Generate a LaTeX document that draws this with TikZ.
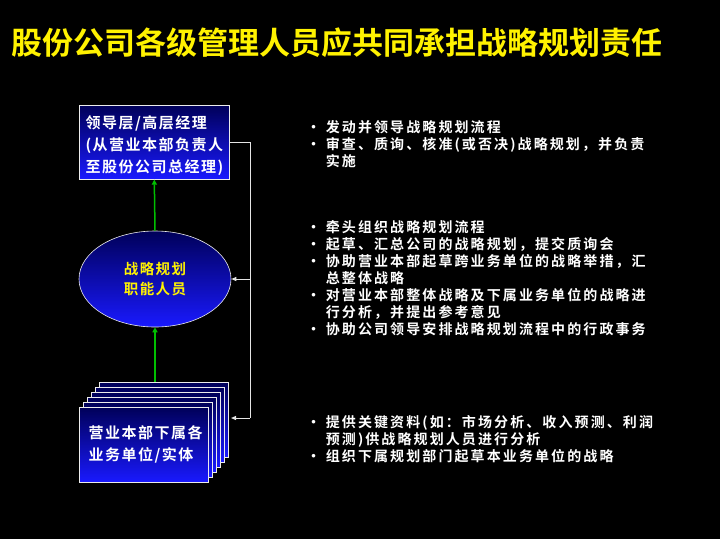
\documentclass[tikz,border=0pt]{standalone}
\usepackage{fontspec}
\setmainfont{Noto Sans CJK SC}[BoldFont={Noto Sans CJK SC Bold}]
\newfontfamily\spaced{Noto Sans CJK SC Bold}[LetterSpace=15]
\newfontfamily\spacedb{Noto Sans CJK SC Bold}[LetterSpace=10]
\usetikzlibrary{shapes.geometric,arrows.meta}
\begin{document}
\begin{tikzpicture}[x=1pt,y=-1pt,
  bx/.style={draw=white!85!gray,line width=0.6pt,top color=blue!35!black,bottom color=blue!90!white,rectangle,inner sep=0},
  grn/.style={draw=green!75!black,line width=1.5pt,-{Triangle[length=5pt,width=5pt]}},
  gry/.style={draw=white!80!gray,line width=1pt,-{Triangle[length=5pt,width=4pt]}},
  txt/.style={font=\spaced\fontsize{14}{17}\selectfont,text=white,align=left,anchor=north west}]
\useasboundingbox[fill=black] (0,0) rectangle (720,539);
\node[font=\bfseries\fontsize{31}{34}\selectfont,text=yellow,anchor=west] (title) at (8,43) {股份公司各级管理人员应共同承担战略规划责任};
\node[bx,minimum width=150,minimum height=74,anchor=north west] (top) at (79,105) {};
\node[txt,font=\spacedb\fontsize{15}{22}\selectfont] (toptxt) at (82,112) {领导层/高层经理\\(从营业本部负责人\\至股份公司总经理)};
\node[ellipse,draw=white!85!gray,line width=0.6pt,top color=blue!35!black,bottom color=blue!90!white,minimum width=152,minimum height=96] (ell) at (155,279) {};
\node[font=\spacedb\fontsize{14.5}{20}\selectfont,text=yellow,align=center] (elltxt) at (155,279) {战略规划\\职能人员};
\foreach \i in {5,4,3,2,1}{
  \node[bx,minimum width=129,minimum height=75,anchor=north west] (s\i) at (79+4*\i,407-5*\i) {};
}
\node[bx,minimum width=129,minimum height=75,anchor=north west] (s0) at (79,407) {};
\node[txt,font=\spacedb\fontsize{15}{22}\selectfont] (stxt) at (85,422) {营业本部下属各\\业务单位/实体};
\draw[grn] (ell.north) -- (top.south);
\draw[grn] (s5.north -| ell.south) -- (ell.south);
\coordinate (c1) at (250,142);
\coordinate (c2) at (250,418);
\draw[white!80!gray,line width=1pt] (top.east |- c1) -- (c1) -- (c2);
\draw[gry] (250,279) -- (ell.east);
\draw[gry] (c2) -- (231,418);
\node[txt] (t1) at (303,117) {• 发动并领导战略规划流程\\• 审查、质询、核准(或否决)战略规划，并负责\\\phantom{• }实施};
\node[txt] (t2) at (303,217) {• 牵头组织战略规划流程\\• 起草、汇总公司的战略规划，提交质询会\\• 协助营业本部起草跨业务单位的战略举措，汇\\\phantom{• }总整体战略\\• 对营业本部整体战略及下属业务单位的战略进\\\phantom{• }行分析，并提出参考意见\\• 协助公司领导安排战略规划流程中的行政事务};
\node[txt] (t3) at (303,412) {• 提供关键资料(如：市场分析、收入预测、利润\\\phantom{• }预测)供战略规划人员进行分析\\• 组织下属规划部门起草本业务单位的战略};
\end{tikzpicture}
\end{document}
